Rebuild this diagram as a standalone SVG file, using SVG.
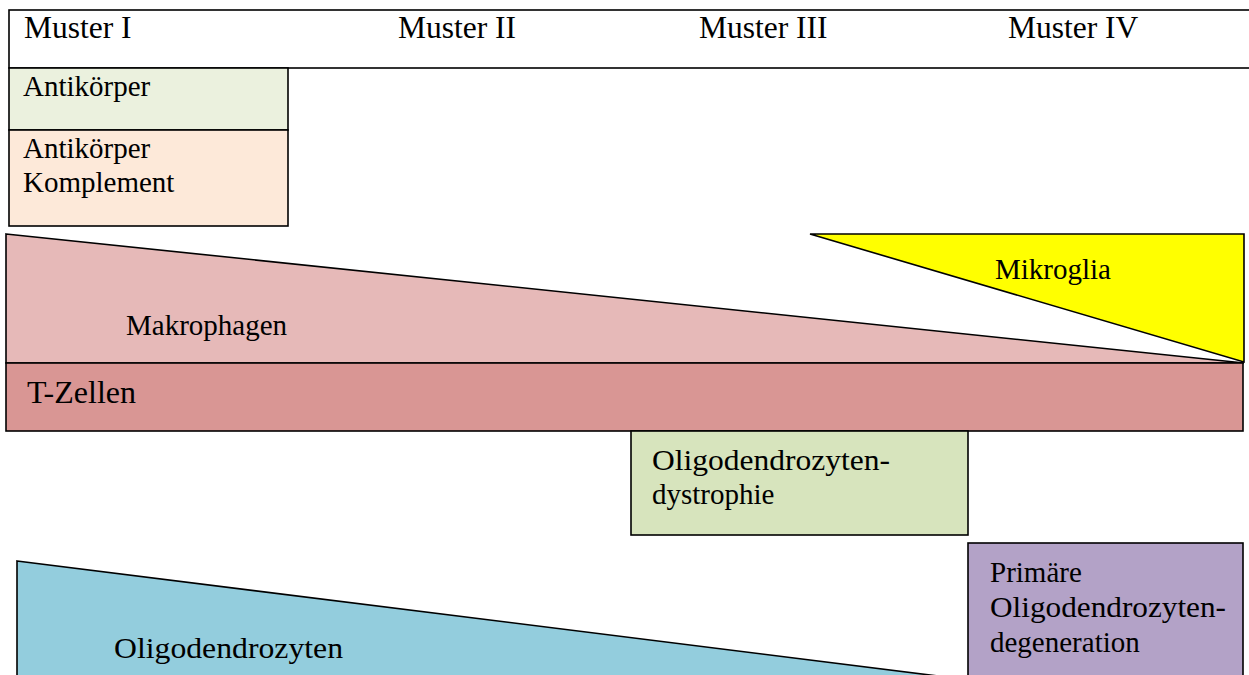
<svg xmlns="http://www.w3.org/2000/svg" width="1249" height="675" viewBox="0 0 1249 675" font-family="'Liberation Serif', 'Times New Roman', Times, 'DejaVu Serif', serif">
<style>
.s{stroke:#000;stroke-width:1.6;stroke-linejoin:miter}
.t{font-family:'Liberation Serif','Times New Roman',Times,'DejaVu Serif',serif;font-size:29px;fill:#000}
.h{font-size:31.5px}
</style>
<rect x="0" y="0" width="1249" height="675" fill="#fff"/>
<g id="header">
<rect class="s" x="9" y="10" width="1260" height="58" fill="#fff"/>
<text class="t h" x="24" y="38">Muster I</text>
<text class="t h" x="398" y="38">Muster II</text>
<text class="t h" x="699" y="38">Muster III</text>
<text class="t h" x="1008" y="38">Muster IV</text>
</g>
<g id="antikoerper">
<rect class="s" x="9" y="68" width="279" height="62" fill="#EBF1DE"/>
<text class="t" x="23" y="96">Antikörper</text>
</g>
<g id="komplement">
<rect class="s" x="9" y="130" width="279" height="96" fill="#FDE9D9"/>
<text class="t" x="23" y="158">Antikörper</text>
<text class="t" x="23" y="192">Komplement</text>
</g>
<g id="makrophagen">
<polygon class="s" points="6,234 1244,363 6,363" fill="#E6B9B8"/>
<text class="t" x="126" y="335">Makrophagen</text>
</g>
<g id="mikroglia">
<polygon class="s" points="810,234 1244,234 1244,362" fill="#FFFF00"/>
<text class="t" x="995" y="279">Mikroglia</text>
</g>
<g id="tzellen">
<rect class="s" x="6" y="363" width="1237" height="68" fill="#D99694"/>
<text class="t" x="27" y="403" font-size="32" style="font-size:32px">T-Zellen</text>
</g>
<g id="dystrophie">
<rect class="s" x="631" y="431" width="337" height="104" fill="#D7E4BD"/>
<text class="t" x="652" y="470" textLength="238" lengthAdjust="spacingAndGlyphs">Oligodendrozyten-</text>
<text class="t" x="652" y="504">dystrophie</text>
</g>
<g id="oligodendrozyten">
<polygon class="s" points="17,561 1010,685 17,685" fill="#93CDDD"/>
<text class="t" x="114" y="658" textLength="229" lengthAdjust="spacingAndGlyphs">Oligodendrozyten</text>
</g>
<g id="degeneration">
<rect class="s" x="968" y="543" width="275" height="150" fill="#B3A2C7"/>
<text class="t" x="990" y="582">Primäre</text>
<text class="t" x="990" y="617" textLength="236" lengthAdjust="spacingAndGlyphs">Oligodendrozyten-</text>
<text class="t" x="990" y="652">degeneration</text>
</g>
<g id="connectors"></g>
</svg>
